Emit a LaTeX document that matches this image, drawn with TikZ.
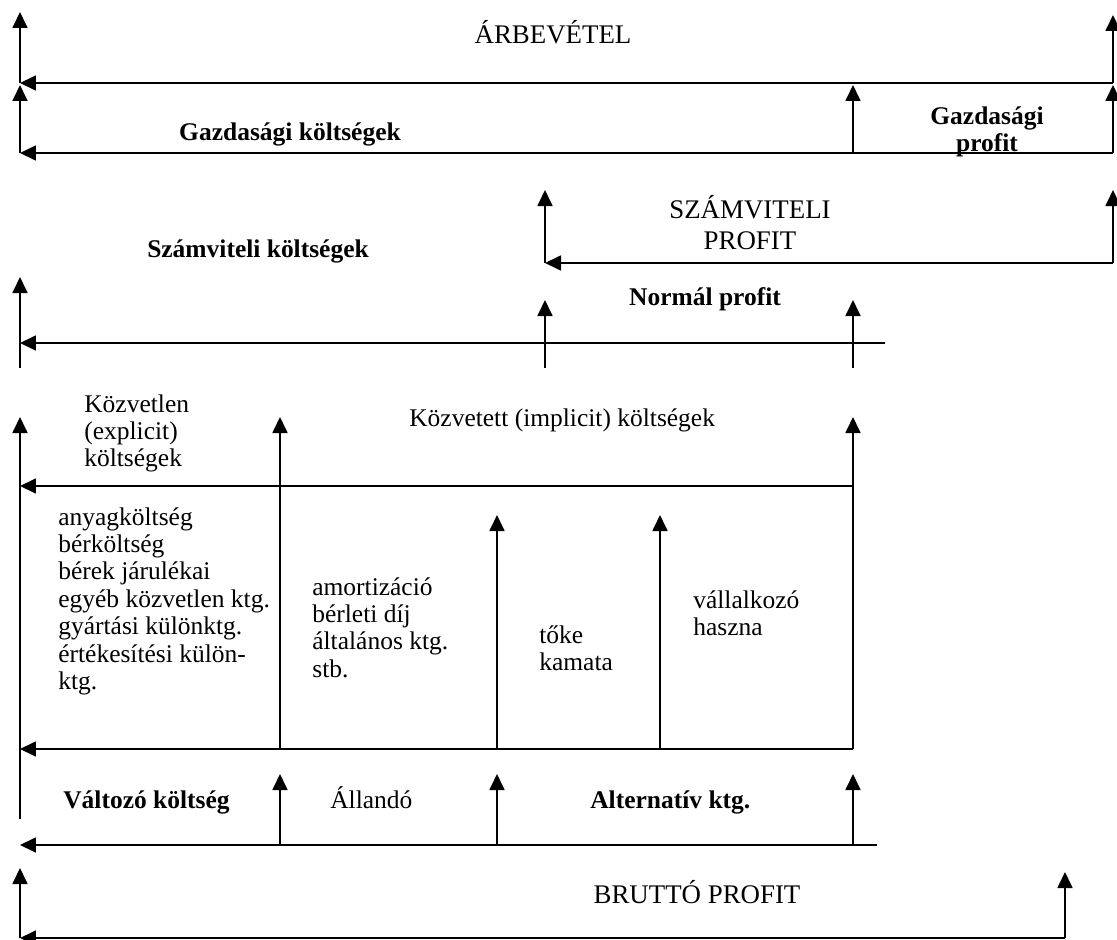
\documentclass[tikz,border=0pt]{standalone}
\usepackage{fontspec}
\setmainfont{Liberation Serif}
\usetikzlibrary{arrows.meta}
\tikzset{
  arr/.style={-{Triangle[length=0.32cm,width=0.3cm]}, line width=1pt},
  lbl/.style={font=\fontsize{14.5}{15.6}\selectfont, inner sep=0pt, align=left},
  blbl/.style={lbl, font=\fontsize{14.5}{15.6}\selectfont\bfseries},
  caps/.style={lbl, font=\fontsize{15.3}{17.5}\selectfont},
}
\begin{document}
\begin{tikzpicture}[x=0.02cm, y=-0.02cm]
    \useasboundingbox (0,0) rectangle (1117,940);

    % arbevetel
    \coordinate (a1) at (20,83);   \coordinate (a1t) at (20,12);
    \coordinate (b1) at (1113,83); \coordinate (b1t) at (1113,15);
    \draw[arr] (a1) -- (a1t);
    \draw[arr] (b1) -- (b1t);
    \draw[arr] (b1) -- (a1);
    \node[caps, anchor=base] (arbev) at (553,43) {ÁRBEVÉTEL};

    % gazdasagi koltsegek / profit
    \coordinate (a2) at (20,153);   \coordinate (a2t) at (20,85);
    \coordinate (m2) at (853,153);  \coordinate (m2t) at (853,85);
    \coordinate (b2) at (1113,153); \coordinate (b2t) at (1113,85);
    \draw[arr] (a2) -- (a2t);
    \draw[arr] (m2) -- (m2t);
    \draw[arr] (b2) -- (b2t);
    \draw[arr] (b2) -- (a2);
    \node[blbl, anchor=base] (gktg) at (290,140) {Gazdasági költségek};
    \node[blbl, align=center, anchor=north] (gprof) at (987,106) {Gazdasági\\profit};

    % szamviteli profit
    \coordinate (c3) at (545,263);  \coordinate (c3t) at (545,190);
    \coordinate (b3) at (1113,263); \coordinate (b3t) at (1113,190);
    \draw[arr] (c3) -- (c3t);
    \draw[arr] (b3) -- (b3t);
    \draw[arr] (b3) -- (c3);
    \node[caps, align=center, anchor=north] (szprof) at (750,195) {SZÁMVITELI\\PROFIT};

    % szamviteli koltsegek, normal profit
    \coordinate (a4) at (20,368);  \coordinate (a4t) at (20,277);
    \coordinate (c4) at (545,368); \coordinate (c4t) at (545,300);
    \coordinate (m4) at (853,368); \coordinate (m4t) at (853,300);
    \coordinate (h4) at (885,343); \coordinate (h4l) at (20,343);
    \draw[arr] (a4) -- (a4t);
    \draw[arr] (c4) -- (c4t);
    \draw[arr] (m4) -- (m4t);
    \draw[arr] (h4) -- (h4l);
    \node[blbl, anchor=base] (szktg) at (258,257) {Számviteli költségek};
    \node[blbl, anchor=base] (nprof) at (705,305) {Normál profit};

    % kozvetlen / kozvetett koltsegek
    \coordinate (a5) at (20,819);  \coordinate (a5t) at (20,417);
    \coordinate (d5) at (280,749); \coordinate (d5t) at (280,417);
    \coordinate (m5) at (853,749); \coordinate (m5t) at (853,417);
    \coordinate (m5h) at (853,486); \coordinate (a5h) at (20,486);
    \draw[arr] (a5) -- (a5t);
    \draw[arr] (d5) -- (d5t);
    \draw[arr] (m5) -- (m5t);
    \draw[arr] (m5h) -- (a5h);
    \node[lbl, anchor=north west] (kozv) at (84,394) {Közvetlen\\(explicit)\\költségek};
    \node[lbl, anchor=base west] (kozvt) at (409,426) {Közvetett (implicit) költségek};

    % koltsegelemek
    \coordinate (e6) at (497,749); \coordinate (e6t) at (497,515);
    \coordinate (f6) at (660,749); \coordinate (f6t) at (660,515);
    \coordinate (m6) at (853,749); \coordinate (a6) at (20,749);
    \draw[arr] (e6) -- (e6t);
    \draw[arr] (f6) -- (f6t);
    \draw[arr] (m6) -- (a6);
    \node[lbl, anchor=north west] (anyag) at (58,507) {anyagköltség\\bérköltség\\bérek járulékai\\egyéb közvetlen ktg.\\gyártási különktg.\\értékesítési külön-\\ktg.};
    \node[lbl, anchor=north west] (amort) at (312,577) {amortizáció\\bérleti díj\\általános ktg.\\stb.};
    \node[lbl, anchor=north west] (toke) at (539,625) {tőke\\kamata};
    \node[lbl, anchor=north west] (vall) at (693,590) {vállalkozó\\haszna};

    % valtozo / allando / alternativ
    \coordinate (d7) at (280,845); \coordinate (d7t) at (280,774);
    \coordinate (e7) at (497,845); \coordinate (e7t) at (497,774);
    \coordinate (m7) at (853,845); \coordinate (m7t) at (853,774);
    \coordinate (h7) at (877,845); \coordinate (a7) at (20,845);
    \draw[arr] (d7) -- (d7t);
    \draw[arr] (e7) -- (e7t);
    \draw[arr] (m7) -- (m7t);
    \draw[arr] (h7) -- (a7);
    \node[blbl, anchor=base west] (valt) at (63,808) {Változó költség};
    \node[lbl, anchor=base west] (alla) at (330,808) {Állandó};
    \node[blbl, anchor=base west] (alt) at (590,808) {Alternatív ktg.};

    % brutto profit
    \coordinate (a8) at (20,938);   \coordinate (a8t) at (20,868);
    \coordinate (g8) at (1065,938); \coordinate (g8t) at (1065,872);
    \draw[arr] (a8) -- (a8t);
    \draw[arr] (g8) -- (g8t);
    \draw[arr] (g8) -- (a8);
    \node[caps, anchor=base] (brutto) at (697,903) {BRUTTÓ PROFIT};
\end{tikzpicture}
\end{document}
